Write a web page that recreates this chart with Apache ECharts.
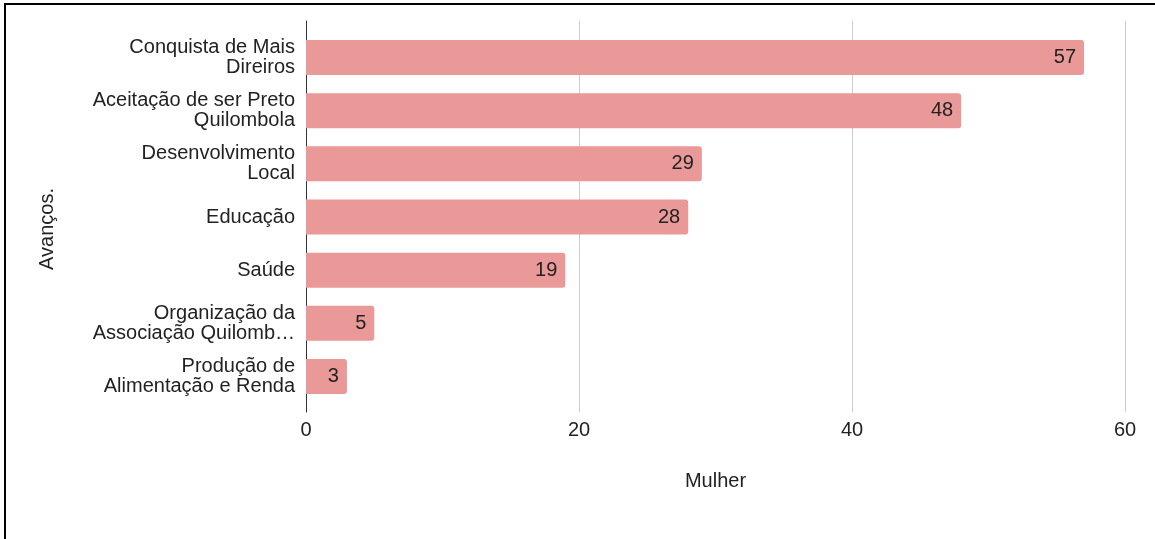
<!DOCTYPE html>
<html>
<head>
<meta charset="utf-8">
<script src="https://cdn.jsdelivr.net/npm/echarts@6/dist/echarts.min.js"></script>
<style>
html,body{margin:0;padding:0;background:#fff;}
#chart{position:absolute;left:0;top:0;width:1155px;height:539px;}
#frame{position:absolute;left:4px;top:3px;right:0;bottom:0;border-top:2px solid #000;border-left:2px solid #000;pointer-events:none;}
</style>
</head>
<body>
<div id="chart"></div>
<div id="frame"></div>
<script>
const categories = [
  "Conquista de Mais\nDireiros",
  "Aceitação de ser Preto\nQuilombola",
  "Desenvolvimento\nLocal",
  "Educação",
  "Saúde",
  "Organização da\nAssociação Quilomb…",
  "Produção de\nAlimentação e Renda"
];
const values = [57, 48, 29, 28, 19, 5, 3];
const xTicks = [0, 20, 40, 60];
const xAxisTitle = "Mulher";
const yAxisTitle = "Avanços.";

const FONT = '"Liberation Sans", Arial, sans-serif';
const TXT = '#222';

const chart = echarts.init(document.getElementById('chart'), null, {renderer: 'canvas'});
chart.setOption({
  animation: false,
  backgroundColor: '#fff',
  textStyle: {fontFamily: FONT},
  grid: [
    {left: 306, top: 21, width: 819, height: 391},
    {left: 306, top: 31, width: 819, height: 372}
  ],
  xAxis: [
    {
      gridIndex: 0, type: 'value', min: xTicks[0], max: xTicks[xTicks.length - 1], interval: 20,
      axisLine: {show: false}, axisTick: {show: false},
      splitLine: {show: true, lineStyle: {color: '#cccccc', width: 1}},
      axisLabel: {color: TXT, fontSize: 20, fontFamily: FONT, margin: 8},
      name: xAxisTitle, nameLocation: 'middle', nameGap: 59,
      nameTextStyle: {color: TXT, fontSize: 20, fontFamily: FONT}
    },
    {
      gridIndex: 1, type: 'value', min: xTicks[0], max: xTicks[xTicks.length - 1],
      show: false
    }
  ],
  yAxis: [
    {
      gridIndex: 0, type: 'value', min: 0, max: 1,
      axisLine: {show: true, lineStyle: {color: '#333', width: 1}},
      axisTick: {show: false}, axisLabel: {show: false}, splitLine: {show: false}
    },
    {
      gridIndex: 1, type: 'category', data: categories, inverse: true,
      axisLine: {show: false}, axisTick: {show: false}, splitLine: {show: false},
      axisLabel: {color: TXT, fontSize: 20, fontFamily: FONT, lineHeight: 20, margin: 11, align: 'right'}
    }
  ],
  graphic: [{
    type: 'text', left: 37, top: 188, rotation: Math.PI / 2,
    style: {text: yAxisTitle, fill: TXT, font: '20px ' + FONT}
  }],
  series: [{
    type: 'bar', xAxisIndex: 1, yAxisIndex: 1, data: values,
    barWidth: 35,
    itemStyle: {color: '#ea9999', borderRadius: [0, 3, 3, 0]},
    label: {show: true, position: 'insideRight', distance: 8, color: TXT, fontSize: 20, fontFamily: FONT}
  }]
});
</script>
</body>
</html>
